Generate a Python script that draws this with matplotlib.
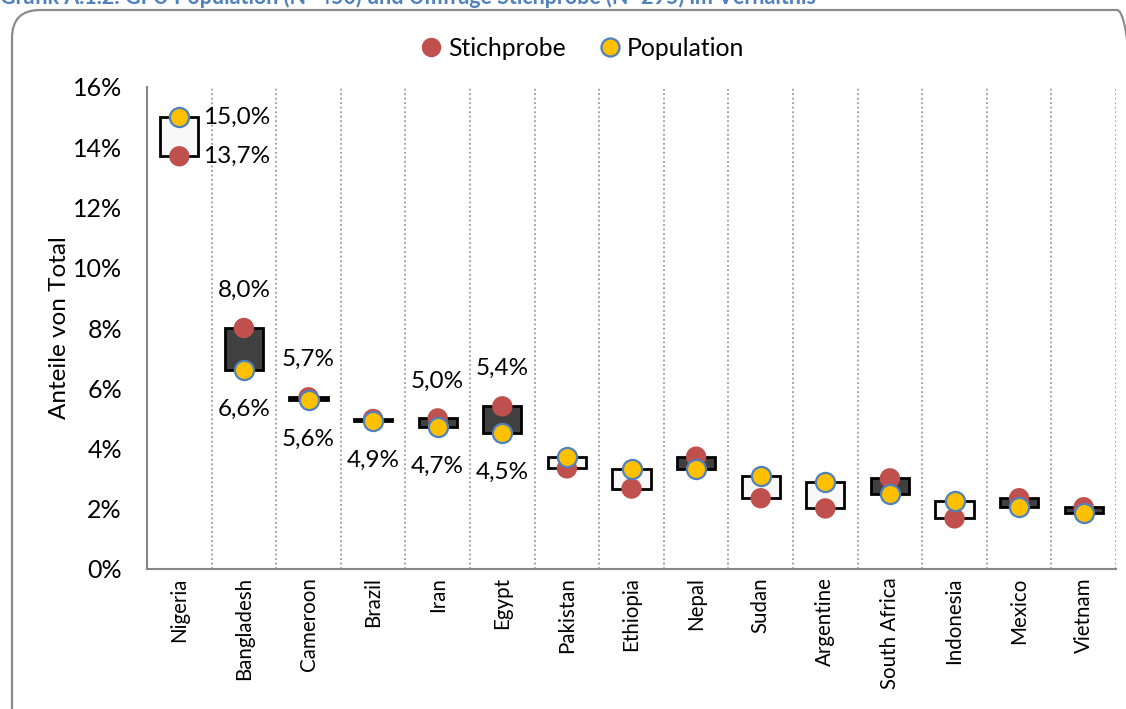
import matplotlib.pyplot as plt
from matplotlib.patches import FancyBboxPatch
from matplotlib.lines import Line2D
import numpy as np

plt.rcParams['font.family'] = ['Lato', 'DejaVu Sans']

countries = ["Nigeria", "Bangladesh", "Cameroon", "Brazil", "Iran", "Egypt",
             "Pakistan", "Ethiopia", "Nepal", "Sudan", "Argentine",
             "South Africa", "Indonesia", "Mexico", "Vietnam"]
stichprobe = [13.7, 8.0, 5.7, 4.98, 5.0, 5.4, 3.34, 2.67, 3.73, 2.35, 2.01, 3.01, 1.68, 2.35, 2.05]
population = [15.0, 6.6, 5.6, 4.9, 4.7, 4.5, 3.72, 3.31, 3.31, 3.10, 2.90, 2.48, 2.27, 2.05, 1.85]
# which countries get value labels: 'side' = right of the box, 'both' = above/below, 'low' = below only
label_mode = ["side", "both", "both", "low", "both", "both"] + [None] * 9

red = "#C0504D"
yellow = "#FFC000"
blue = "#4F81BD"
grey = "#878787"

fig = plt.figure(figsize=(11.26, 7.09), dpi=100)
ax = fig.add_axes([147 / 1126, 1 - 569 / 709, (1116 - 147) / 1126, (569 - 87) / 709])

x = np.arange(len(countries))
lo = np.minimum(stichprobe, population)
hi = np.maximum(stichprobe, population)
box_colors = ["#404040" if s > p else "#f8f8f8" for s, p in zip(stichprobe, population)]

# up/down bars between the two values
ax.bar(x, hi - lo, bottom=lo, width=0.59, color=box_colors, edgecolor="black",
       linewidth=2, zorder=3)

ax.scatter(x, stichprobe, s=215, color=red, edgecolor="none", zorder=4)
ax.scatter(x, population, s=190, color=yellow, edgecolor=blue, linewidth=1.6, zorder=5)

def fmt(v):
    return f"{v:.1f}%".replace(".", ",")

lab_size = 17.5
for i, mode in enumerate(label_mode):
    if mode is None:
        continue
    if mode == "side":
        for v in (stichprobe[i], population[i]):
            ax.annotate(fmt(v), (i + 0.37, v), ha="left", va="center", fontsize=lab_size, zorder=6)
        continue
    if mode == "both":
        ax.annotate(fmt(hi[i]), (i, hi[i]), xytext=(0, 27), textcoords="offset points",
                    ha="center", va="center", fontsize=lab_size)
    ax.annotate(fmt(lo[i]), (i, lo[i]), xytext=(0, -28), textcoords="offset points",
                ha="center", va="center", fontsize=lab_size)

# dotted separators between categories
for b in np.arange(0.5, len(countries), 1.0):
    ax.axvline(b, color="#9a9a9a", linestyle=(0, (1, 1.5)), linewidth=1.3, zorder=1)

ax.set_xlim(-0.5, len(countries) - 0.5)
ax.set_ylim(0, 16)
ax.set_yticks(np.arange(0, 17, 2))
ax.set_yticklabels([f"{t}%" for t in range(0, 17, 2)])
ax.set_xticks(x)
ax.set_xticklabels(countries, rotation=90, va="top", ha="center")
ax.tick_params(axis="y", length=0, pad=18, labelsize=18)
ax.tick_params(axis="x", length=0, pad=6, labelsize=14.8)
ax.set_ylabel("Anteile von Total", fontsize=17.5)
ax.yaxis.set_label_coords(-0.079, 0.5)

for side in ("top", "right"):
    ax.spines[side].set_visible(False)
for side in ("left", "bottom"):
    ax.spines[side].set_color(grey)
    ax.spines[side].set_linewidth(1.5)

handles = [
    Line2D([], [], marker="o", linestyle="none", markersize=14, markerfacecolor=red,
           markeredgecolor="none"),
    Line2D([], [], marker="o", linestyle="none", markersize=13, markerfacecolor=yellow,
           markeredgecolor=blue, markeredgewidth=1.6),
]
fig.legend(handles, ["Stichprobe", "Population"], loc="center", bbox_to_anchor=(0.517, 1 - 48 / 709),
           ncol=2, frameon=False, fontsize=17.8, handlelength=0.9, handletextpad=0.25,
           columnspacing=1.3)

# rounded outer frame (in inches so the corners stay circular) and the caption above it
frame = FancyBboxPatch((0.12, -0.35), 11.33, 7.34,
                       boxstyle="round,pad=0,rounding_size=0.28", transform=fig.dpi_scale_trans,
                       facecolor="none", edgecolor="#8c8c8c", linewidth=1.6, clip_on=False)
fig.patches.append(frame)
fig.text(0.0, 1 + 3 / 709, "Grafik A.1.2: GFU Population (N=450) und Umfrage Stichprobe (N=295) im Verhältnis",
         color=blue, fontsize=15.5, fontweight="bold", ha="left", va="center")

fig.savefig("out.png", dpi=100)
